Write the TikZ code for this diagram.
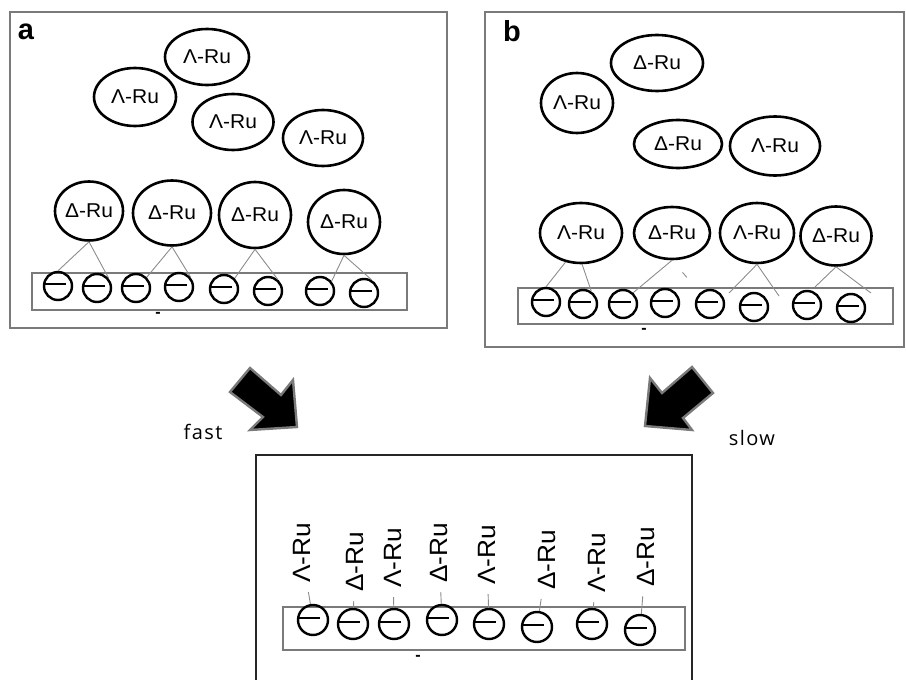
\documentclass[tikz,border=0pt]{standalone}
\usepackage{fontspec}
\setmainfont{Liberation Sans}
\newfontfamily\rufont[FakeStretch=1.05]{Liberation Sans}
\newfontfamily\ratefont[LetterSpace=7]{Open Sans}
\usetikzlibrary{shapes.geometric}

\definecolor{boxgray}{HTML}{7A7A7A}
\definecolor{linkgray}{HTML}{8C8C8C}

\tikzset{
  panel/.style={draw=boxgray, line width=2.6pt},
  membrane/.style={draw=boxgray, line width=2.6pt},
  ru/.style={draw, ellipse, line width=2.6pt, inner sep=0pt,
    font=\rufont\fontsize{20}{20}\selectfont},
  anion/.style={draw, circle, line width=2.4pt, minimum size=28pt, inner sep=0pt,
    path picture={\draw[line width=1.3pt]
      ([yshift=2pt]path picture bounding box.west) -- ++(22pt,0);}},
  link/.style={draw=linkgray, line width=0.9pt},
  bigarrow/.style={fill=black, draw=boxgray, line width=2.4pt, line join=miter},
  tag/.style={font=\fontsize{29}{29}\selectfont\bfseries},
  rate/.style={font=\ratefont\fontsize{20}{20}\selectfont},
  upright/.style={rotate=90, inner sep=0pt, font=\rufont\fontsize{25}{25}\selectfont},
  charge/.style={inner sep=0pt, font=\fontsize{16}{16}\selectfont\bfseries}
}

\begin{document}
\begin{tikzpicture}[x=1pt, y=-1pt]
  \useasboundingbox (0,0) rectangle (906,680);

  % panel a
  \draw[panel] (10,12) rectangle (447,328);
  \node[tag] (taga) at (26,32) {a};
  \node[ru, minimum width=84pt, minimum height=56pt] (fa1) at (207,57) {Λ-Ru};
  \node[ru, minimum width=82pt, minimum height=58pt] (fa2) at (135,97) {Λ-Ru};
  \node[ru, minimum width=81pt, minimum height=56pt] (fa3) at (233,122) {Λ-Ru};
  \node[ru, minimum width=80pt, minimum height=56pt] (fa4) at (323,138) {Λ-Ru};
  \node[ru, minimum width=68pt, minimum height=59pt] (da1) at (89,211) {Δ-Ru};
  \node[ru, minimum width=78pt, minimum height=65pt] (da2) at (172,213) {Δ-Ru};
  \node[ru, minimum width=72pt, minimum height=66pt] (da3) at (255,215) {Δ-Ru};
  \node[ru, minimum width=72pt, minimum height=64pt] (da4) at (344,222) {Δ-Ru};
  \draw[membrane] (32,273) rectangle (407,310);
  \node[anion] (a1) at (58,286) {};
  \node[anion] (a2) at (97,288) {};
  \node[anion] (a3) at (136,288) {};
  \node[anion] (a4) at (179,287) {};
  \node[anion] (a5) at (224,289) {};
  \node[anion] (a6) at (268,291) {};
  \node[anion] (a7) at (320,291) {};
  \node[anion] (a8) at (364,293) {};
  \node[charge] (qa) at (158,315) {-};
  \draw[link] (a1.north) -- (da1.south) -- (a2.40);
  \draw[link] (a3.45) -- (da2.south) -- (a4.40);
  \draw[link] (a5.45) -- (da3.south) -- (a6.50);
  \draw[link] (a7.40) -- (da4.south) -- (a8.60);

  % panel b
  \draw[panel] (485,12) rectangle (904,347);
  \node[tag] (tagb) at (512,31) {b};
  \node[ru, minimum width=92pt, minimum height=56pt] (fb1) at (657,63) {Δ-Ru};
  \node[ru, minimum width=72pt, minimum height=60pt] (fb2) at (577,103) {Λ-Ru};
  \node[ru, minimum width=88pt, minimum height=48pt] (fb3) at (678,144) {Δ-Ru};
  \node[ru, minimum width=90pt, minimum height=59pt] (fb4) at (775,146) {Λ-Ru};
  \node[ru, minimum width=82pt, minimum height=60pt] (bb1) at (581,233) {Λ-Ru};
  \node[ru, minimum width=76pt, minimum height=52pt] (bb2) at (672,233) {Δ-Ru};
  \node[ru, minimum width=74pt, minimum height=60pt] (bb3) at (757,233) {Λ-Ru};
  \node[ru, minimum width=71pt, minimum height=59pt] (bb4) at (836,236) {Δ-Ru};
  \draw[membrane] (518,288) rectangle (893,324);
  \node[anion] (b1) at (546,302) {};
  \node[anion] (b2) at (583,304) {};
  \node[anion] (b3) at (623,304) {};
  \node[anion] (b4) at (665,303) {};
  \node[anion] (b5) at (710,304) {};
  \node[anion] (b6) at (754,307) {};
  \node[anion] (b7) at (807,305) {};
  \node[anion] (b8) at (851,308) {};
  \node[charge] (qb) at (644,331) {-};
  \coordinate (gb1) at (729,293);
  \coordinate (gb2) at (779,296);
  \coordinate (gb3) at (815,287);
  \coordinate (gb4) at (871,293);
  \draw[link] (b1.north) -- (bb1.242);
  \draw[link] (bb1.272) -- (b2.57);
  \draw[link] (bb2.south) -- (b3.48);
  \draw[link, shorten <=16pt, shorten >=20pt] (bb2.south) -- (b5);
  \draw[link] (gb1) -- (bb3.south) -- (gb2);
  \draw[link] (gb3) -- (bb4.south) -- (gb4);

  % arrows
  \draw[bigarrow] (250,368) -- (281,395) -- (293,380) -- (297,427)
    -- (250,430) -- (263,417) -- (230,392) -- cycle;
  \draw[bigarrow] (692,367) -- (662,393) -- (650,378) -- (645,426)
    -- (692,430) -- (683,418) -- (713,393) -- cycle;
  \node[rate] (fast) at (203,432) {fast};
  \node[rate] (slow) at (752,438) {slow};

  % result
  \draw[line width=2.6pt, black!85] (256,690) -- (256,455) -- (692,455) -- (692,690);
  \draw[membrane] (283,607) rectangle (685,650);
  \node[anion, minimum size=30pt] (c1) at (313,620) {};
  \node[anion, minimum size=30pt] (c2) at (353,624) {};
  \node[anion, minimum size=30pt] (c3) at (394,624) {};
  \node[anion, minimum size=30pt] (c4) at (442,620) {};
  \node[anion, minimum size=30pt] (c5) at (489,624) {};
  \node[anion, minimum size=30pt] (c6) at (537,627) {};
  \node[anion, minimum size=30pt] (c7) at (592,624) {};
  \node[anion, minimum size=30pt] (c8) at (640,630) {};
  \node[charge] (qc) at (418,658) {-};
  \node[upright] (s1) at (302,553) {Λ-Ru};
  \node[upright] (s2) at (355,562) {Δ-Ru};
  \node[upright] (s3) at (393,558) {Λ-Ru};
  \node[upright] (s4) at (439,553) {Δ-Ru};
  \node[upright] (s5) at (487,555) {Λ-Ru};
  \node[upright] (s6) at (547,560) {Δ-Ru};
  \node[upright] (s7) at (597,563) {Λ-Ru};
  \node[upright] (s8) at (646,557) {Δ-Ru};
  \foreach \i in {1,...,8}
    \draw[link, shorten <=9pt] (s\i) -- (c\i);
\end{tikzpicture}
\end{document}
